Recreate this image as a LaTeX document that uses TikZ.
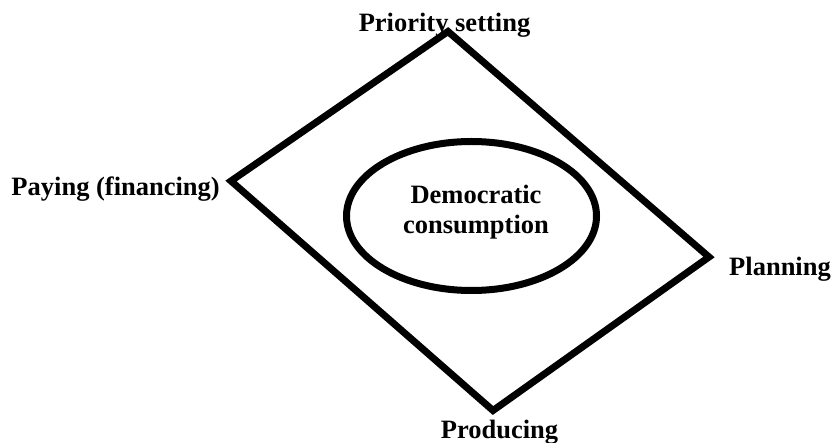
\documentclass[tikz,border=0pt]{standalone}
\usepackage{fontspec}
\setmainfont{Liberation Serif}
\usetikzlibrary{shapes.geometric}
\tikzset{
  frameline/.style={line width=7pt, line join=miter, miter limit=10},
  lbl/.style={inner sep=0pt, font=\fontsize{26.5}{30}\selectfont\bfseries},
  ovalbox/.style={ellipse, draw, line width=7pt, minimum width=250pt, minimum height=149pt, inner sep=0pt}
}
\begin{document}
\begin{tikzpicture}[x=1pt,y=-1pt]
\useasboundingbox (0,0) rectangle (832,443);
\coordinate (T) at (448,31.5);
\coordinate (R) at (709,257);
\coordinate (B) at (493,410.5);
\coordinate (L) at (231,181);
\draw[frameline] (T) -- (R) -- (B) -- (L) -- cycle;
\node[ovalbox] (dc) at (471.5,216) {};
\node[lbl, align=center, anchor=base] (dctext) at (476,234) {Democratic\\consumption};
\node[lbl, anchor=base] (prio) at (444.5,32) {Priority setting};
\node[lbl, anchor=base east] (pay) at (220,196) {Paying (financing)};
\node[lbl, anchor=base west] (plan) at (729,276) {Planning};
\node[lbl, anchor=base] (prod) at (499.5,438) {Producing};
\end{tikzpicture}
\end{document}
